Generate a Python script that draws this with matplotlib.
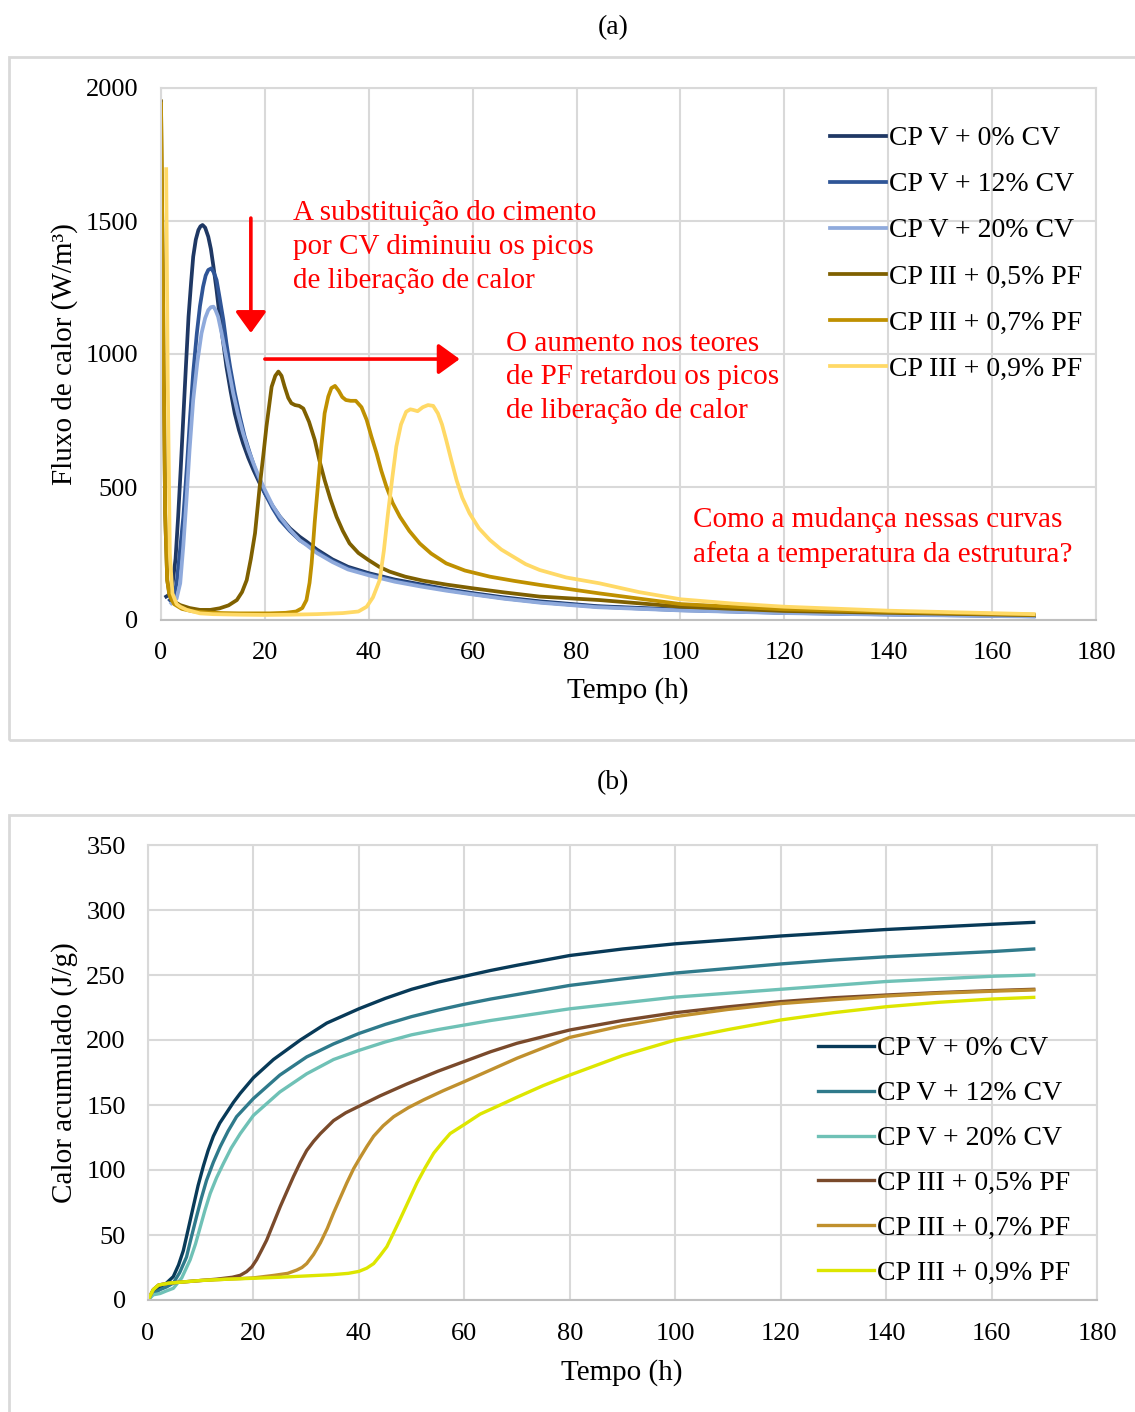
import matplotlib
matplotlib.use("Agg")
import matplotlib.pyplot as plt
from matplotlib.patches import Rectangle

plt.rcParams['font.family'] = ['Liberation Serif', 'DejaVu Serif']

W, H = 1135, 1412

labels = ['CP V + 0% CV', 'CP V + 12% CV', 'CP V + 20% CV',
          'CP III + 0,5% PF', 'CP III + 0,7% PF', 'CP III + 0,9% PF']

# (a) heat flux, W/m3
t_a0 = [1.0, 2.0, 2.8, 3.3, 3.8, 4.3, 4.8, 5.3, 5.8, 6.2, 6.7, 7.2, 7.6, 8.0, 8.5, 9.1, 9.6, 10.1, 10.7, 11.3,
        12.0, 12.6, 13.4, 14.2, 15.0, 15.8, 16.8, 17.8, 18.9, 20.0, 21.5, 22.9, 24.8, 26.7, 28.0, 30, 33, 36, 40,
        45, 50, 55, 60, 66, 73, 84, 100, 120, 140, 168]
q_a0 = [88, 100, 230, 388, 570, 764, 955, 1140, 1270, 1366, 1430, 1466, 1480, 1485, 1475, 1441, 1395, 1328, 1240,
        1140, 1040, 952, 860, 777, 715, 664, 610, 564, 518, 476, 428, 388, 345, 313, 295, 265, 228, 200, 176,
        152, 134, 116, 101, 85, 70, 52, 39, 28, 22, 15]

t_a12 = [1.7, 2.5, 3.0, 3.6, 4.3, 5.0, 5.6, 6.2, 6.9, 7.5, 8.1, 8.6, 9.1, 9.7, 10.2, 10.7, 11.3, 12.0, 12.6, 13.3,
         14.2, 15.2, 16.1, 17.1, 18.5, 20.0, 21.5, 22.9, 24.8, 26.7, 28, 30, 33, 36, 40, 45, 50, 55, 60, 66, 73,
         84, 100, 120, 140, 168]
q_a12 = [75, 90, 138, 250, 388, 580, 764, 930, 1078, 1180, 1253, 1295, 1316, 1322, 1305, 1278, 1210, 1128, 1040,
         952, 855, 764, 690, 627, 545, 476, 420, 376, 335, 300, 285, 258, 222, 195, 172, 148, 130, 113, 98, 82,
         67, 50, 37, 27, 21, 14]

t_a20 = [2.0, 3.0, 3.7, 4.3, 4.9, 5.5, 6.2, 7.0, 7.8, 8.5, 9.1, 9.6, 10.1, 10.5, 11.0, 11.6, 12.3, 13.1, 13.9,
         14.8, 15.8, 16.8, 17.8, 18.9, 20.0, 21.5, 22.9, 24.8, 26.7, 28, 30, 33, 36, 40, 45, 50, 55, 60, 66, 73,
         84, 100, 120, 140, 168]
q_a20 = [63, 80, 138, 280, 451, 640, 827, 970, 1078, 1135, 1165, 1176, 1178, 1165, 1140, 1085, 1015, 935, 852,
         775, 702, 640, 589, 536, 489, 430, 388, 340, 300, 282, 252, 218, 190, 168, 144, 126, 110, 96, 80, 65,
         48, 36, 26, 20, 13]

t_a05 = [0, 0.4, 0.8, 1.2, 1.6, 2.0, 3.7, 5.5, 7.5, 9.5, 11.3, 13.0, 14.6, 15.6, 16.5, 17.3, 18.1, 19.0, 19.7,
         20.3, 21.3, 22.0, 22.6, 23.2, 23.8, 24.5, 25.1, 25.8, 26.6, 27.4, 28.5, 29.6, 30.5, 31.5, 32.6, 33.8,
         35.0, 36.3, 38.0, 39.9, 42.0, 44.0, 47.0, 50.4, 55.0, 60.1, 66.0, 72.9, 84.4, 100, 120, 140, 168]
q_a05 = [1950, 1200, 400, 150, 100, 75, 56, 45, 38, 38, 44, 55, 75, 105, 150, 230, 326, 501, 620, 727, 877, 918,
         934, 918, 877, 835, 815, 808, 805, 795, 745, 677, 600, 526, 455, 388, 335, 288, 252, 226, 200, 182, 163,
         148, 133, 119, 104, 88, 75, 50, 34, 27, 18]

t_a07 = [0, 0.4, 0.8, 1.2, 1.6, 2.5, 4, 6, 9, 12, 15, 18, 21, 24, 26, 27.2, 28.0, 28.6, 29.0, 29.6, 30.3, 30.9,
         31.5, 32.2, 32.8, 33.5, 34.2, 34.9, 35.6, 36.5, 37.5, 38.6, 39.6, 40.5, 41.5, 42.4, 43.4, 44.6, 46.0,
         47.8, 49.8, 52.0, 54.9, 58.5, 63.3, 68, 72.9, 84.4, 100, 120, 140, 168]
q_a07 = [1940, 1200, 400, 150, 95, 60, 42, 33, 28, 26, 25, 25, 25, 27, 32, 45, 75, 140, 213, 370, 526, 660, 777,
         840, 872, 880, 862, 838, 827, 824, 824, 800, 752, 690, 627, 562, 501, 440, 388, 335, 288, 250, 213, 186,
         163, 147, 132, 100, 60, 40, 31, 20]

t_a09 = [1.0, 1.3, 1.7, 2.2, 3.0, 3.7, 5, 7.5, 10, 15, 20, 25, 30, 35, 38, 39.6, 40.8, 42.1, 42.9, 43.7, 44.5,
         45.3, 46.2, 47.2, 48.0, 48.5, 49.4, 50.4, 51.4, 52.4, 53.3, 54.1, 54.9, 55.9, 56.9, 58.0, 59.4, 61.2,
         63.3, 65.5, 67.8, 70.2, 72.9, 78, 84.4, 92, 100, 110, 120, 140, 168]
q_a09 = [1695, 900, 250, 100, 60, 50, 38, 25, 22, 20, 19, 20, 22, 26, 32, 50, 85, 150, 260, 401, 530, 652, 735,
         783, 792, 790, 785, 800, 808, 805, 777, 735, 677, 600, 526, 460, 401, 345, 301, 265, 238, 210, 188, 160,
         138, 105, 78, 62, 50, 35, 22]

# (b) cumulative heat, J/g
t_b0 = [0, 1, 2.3, 3.5, 4.8, 5.8, 6.7, 7.6, 8.6, 9.5, 10.5, 11.4, 12.4, 13.6, 14.9, 16.2, 17.5, 20, 23.8, 28.9,
        33.9, 40, 45, 50, 55, 60, 65, 70, 80, 90, 100, 110, 120, 130, 140, 150, 160, 168]
c_b0 = [0, 6, 10, 13, 18, 27, 38, 54, 72, 88, 103, 115, 126, 136, 144, 152, 159, 171, 185, 200, 213, 224, 232,
        239, 244.5, 249, 253.5, 257.5, 265, 270, 274, 277, 280, 282.5, 285, 287, 289, 290.5]

t_b12 = [0, 1, 2.3, 3.5, 4.8, 6.0, 7.3, 8.2, 9.2, 10.1, 11.1, 12.4, 13.7, 15.2, 16.8, 18.4, 20, 25, 30.1, 35.2,
         40, 45, 50, 55, 60, 65, 70, 80, 90, 100, 110, 120, 130, 140, 150, 160, 168]
c_b12 = [0, 5, 8, 10, 13, 21, 33, 48, 64, 78, 92, 106, 118, 130, 141, 148, 155, 173, 187, 197, 205, 212, 218,
         223, 227.5, 231.5, 235, 242, 247, 251.5, 255, 258.5, 261.5, 264, 266, 268, 270]

t_b20 = [0, 1, 2.3, 3.5, 4.8, 6.4, 8, 9, 9.9, 10.8, 11.8, 13, 14.3, 15.8, 17.5, 20, 25, 30.1, 35.2, 40, 45, 50,
         55, 60, 65, 70, 80, 90, 100, 110, 120, 130, 140, 150, 160, 168]
c_b20 = [0, 4, 5, 7, 9, 17, 31, 43, 56, 69, 82, 94, 105, 117, 128, 142, 160, 174, 185, 192, 198.5, 204, 208,
         211.5, 215, 218, 224, 228.5, 233, 236, 239, 242, 245, 247, 249, 250]

t_b05 = [0, 1, 2, 4, 7, 10, 13, 16, 17.5, 18.7, 19.7, 20.6, 21.5, 22.5, 23.8, 25.1, 26.4, 27.6, 28.9, 30.1, 31.4,
         32.7, 35.2, 37.5, 40, 44, 49, 55, 60, 65, 70, 80, 90, 100, 110, 120, 130, 140, 150, 160, 168]
c_b05 = [0, 8, 11.5, 13, 14, 15, 16, 17.5, 19, 21.8, 25.5, 31, 38, 46, 59, 72, 84, 95, 106, 115, 122, 128, 138,
         144, 149, 157, 166, 176, 183.5, 191, 197.5, 207.7, 215, 221, 225.5, 229.5, 232.5, 234.6, 236.5, 238, 239]

t_b07 = [0, 1, 2, 4, 7, 10, 15, 20, 24, 26.5, 28.2, 29.2, 30.1, 31.4, 32.7, 34.0, 35.2, 36.5, 37.7, 39.0, 40.3,
         41.5, 42.8, 44.6, 46.6, 49.4, 52.3, 56, 60, 65, 70, 80, 90, 100, 110, 120, 130, 140, 150, 160, 168]
c_b07 = [0, 8, 11.5, 13, 14, 15, 16, 17, 19, 20.5, 23, 25, 28, 35, 44, 55, 67, 79, 90, 101, 110, 118, 126, 134,
         141, 148, 154, 161, 168, 177, 186, 202, 211, 218, 223.5, 228, 231, 233.8, 236, 237.5, 238.5]

t_b09 = [0, 1, 2, 4, 7, 10, 15, 20, 25, 30, 35, 38, 40, 41.5, 42.8, 44, 45.3, 46.5, 47.8, 49.4, 51, 52.6, 54.2,
         55.8, 57.3, 60, 63, 66.8, 70, 75, 80, 90, 100, 110, 120, 130, 140, 150, 160, 168]
c_b09 = [0, 8, 11.5, 13, 14, 15, 16, 16.7, 17.5, 18.5, 19.5, 20.5, 22, 24.5, 28, 34, 41, 51, 62, 76, 90, 102, 113,
         121, 128, 135, 143, 150, 156, 165, 173, 188, 200, 208, 215.4, 221, 225.6, 229, 231.5, 232.8]

colors_a = ['#1F3864', '#2F5597', '#8FAADC', '#7F6000', '#BF9000', '#FFD966']
colors_b = ['#083A58', '#2F7A8B', '#6FC1B6', '#7A4A2B', '#C0902E', '#DDE600']

series_a = [(t_a0, q_a0), (t_a12, q_a12), (t_a20, q_a20), (t_a05, q_a05), (t_a07, q_a07), (t_a09, q_a09)]
series_b = [(t_b0, c_b0), (t_b12, c_b12), (t_b20, c_b20), (t_b05, c_b05), (t_b07, c_b07), (t_b09, c_b09)]

fig = plt.figure(figsize=(W / 100, H / 100), dpi=100)

# outer panel frames
for top, bot in [(57, 740), (815, 1425)]:
    fig.add_artist(Rectangle((9 / W, 1 - bot / H), 1.2, (bot - top) / H, transform=fig.transFigure,
                             fill=False, edgecolor='#D9D9D9', lw=2))

ax1 = fig.add_axes([161 / W, 1 - 620 / H, (1096 - 161) / W, (620 - 88) / H])
ax2 = fig.add_axes([148 / W, 1 - 1300 / H, (1097 - 148) / W, (1300 - 845) / H])


def style(ax, ymax, ystep, ypad, xpad):
    ax.set_xlim(0, 180)
    ax.set_ylim(0, ymax)
    ax.set_xticks(range(0, 181, 20))
    ax.set_yticks(range(0, ymax + 1, ystep))
    ax.grid(True, color='#D9D9D9', lw=1.5)
    ax.set_axisbelow(True)
    for s in ax.spines.values():
        s.set_color('#D9D9D9')
        s.set_linewidth(1.5)
    ax.spines['bottom'].set_color('#BFBFBF')
    ax.tick_params(length=0, labelsize=19, colors='black')
    ax.tick_params(axis='y', pad=ypad)
    ax.tick_params(axis='x', pad=xpad)


style(ax1, 2000, 500, 16.5, 15.8)
style(ax2, 350, 50, 16, 16.3)

for (t, v), c, lab in zip(series_a, colors_a, labels):
    ax1.plot(t, v, color=c, lw=2.7, label=lab, solid_joinstyle='round')
for (t, v), c, lab in zip(series_b, colors_b, labels):
    ax2.plot(t, v, color=c, lw=2.4, label=lab, solid_joinstyle='round')

ax1.set_xlabel('Tempo (h)', fontsize=21)
ax1.set_ylabel('Fluxo de calor (W/m³)', fontsize=21)
ax1.xaxis.set_label_coords(0.4995, -0.108)
ax1.yaxis.set_label_coords(-0.089, 0.5)
ax2.set_xlabel('Tempo (h)', fontsize=21)
ax2.set_ylabel('Calor acumulado (J/g)', fontsize=21)
ax2.xaxis.set_label_coords(0.4995, -0.129)
ax2.yaxis.set_label_coords(-0.074, 0.5)

leg_kw = dict(loc='upper left', frameon=False, fontsize=20, handlelength=2.0, handletextpad=0.12,
              borderpad=0, borderaxespad=0, bbox_transform=fig.transFigure)
ax1.legend(bbox_to_anchor=(830 / W, 1 - 126 / H), labelspacing=0.74, **leg_kw)
ax2.legend(bbox_to_anchor=(818 / W, 1 - 1036 / H), labelspacing=0.70, **leg_kw)

# red notes and arrows
red = '#FF0000'
ax1.text(25.4, 1402, 'A substituição do cimento\npor CV diminuiu os picos\nde liberação de calor',
         color=red, fontsize=21, ha='left', va='center', linespacing=1.38)
ax1.text(66.5, 913, 'O aumento nos teores\nde PF retardou os picos\nde liberação de calor',
         color=red, fontsize=21, ha='left', va='center', linespacing=1.38)
ax1.text(102.5, 310, 'Como a mudança nessas curvas\nafeta a temperatura da estrutura?',
         color=red, fontsize=21, ha='left', va='center', linespacing=1.38)
arrow = dict(arrowstyle='-|>,head_length=0.65,head_width=0.47', color=red, lw=2.6,
             mutation_scale=20, shrinkA=0, shrinkB=0)
ax1.annotate('', xy=(17.3, 1079), xytext=(17.3, 1511), arrowprops=arrow)
ax1.annotate('', xy=(57.5, 981), xytext=(20, 981), arrowprops=arrow)

fig.text(613 / W, 1 - 28 / H, '(a)', fontsize=20, ha='center', va='center')
fig.text(613 / W, 1 - 783 / H, '(b)', fontsize=20, ha='center', va='center')

fig.savefig('out.png', dpi=100, facecolor='white')
